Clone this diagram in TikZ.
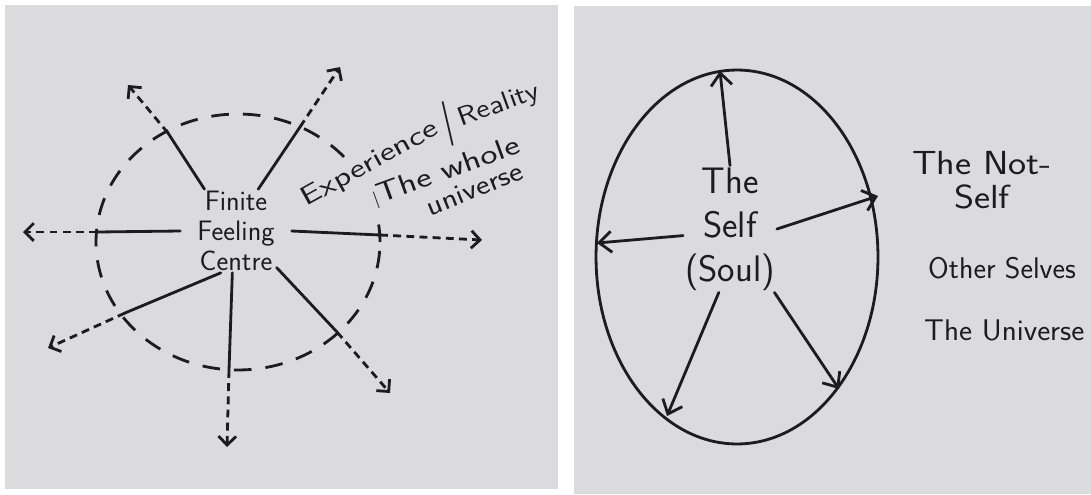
\documentclass[tikz,border=0pt]{standalone}
\usepackage{fontspec}
\usepackage{graphicx}
\usepackage{tikz}
\usetikzlibrary{arrows.meta, positioning}
\definecolor{paper}{RGB}{219,219,221}
\definecolor{ink}{RGB}{28,28,30}
\newcommand{\stretchx}[2]{\scalebox{#1}[1]{#2}}

\begin{document}
\begin{tikzpicture}[
  x=0.02cm, y=-0.02cm,
  every node/.style={text=ink, inner sep=1pt, font=\sffamily},
  pen/.style={draw=ink, line width=1.6pt, line cap=round},
  ring/.style={pen, line cap=butt, dash pattern=on 10pt off 8pt},
  outray/.style={pen, line cap=butt, dash pattern=on 4.5pt off 3pt,
    -{Straight Barb[length=5pt, width=10pt]}},
  soulray/.style={pen, -{Straight Barb[length=7pt, width=12pt]}},
  hand/.style={anchor=base west, font=\sffamily\fontsize{#1}{#1}\selectfont},
  hand/.default=15
]
  \useasboundingbox (0,0) rectangle (1091,494);
  \fill[white] (0,0) rectangle (1091,494);
  \fill[paper] (5,5) rectangle (558,489);
  \fill[paper] (574,6) rectangle (1091,494);

  % left sheet: finite feeling centre
  \node[align=center, font=\sffamily\fontsize{16}{17}\selectfont] (ffc) at (236,231)
    {Finite\\Feeling\\Centre};
  \draw[ring] (238,242) ellipse [x radius=2.84cm, y radius=2.56cm];

  \coordinate (cut-tl) at (168,133);  \coordinate (tip-tl) at (128,85);
  \coordinate (cut-tr) at (300,127);  \coordinate (tip-tr) at (340,67);
  \coordinate (cut-l)  at (97,232);   \coordinate (tip-l)  at (23,232);
  \coordinate (cut-r)  at (380,235);  \coordinate (tip-r)  at (482,240);
  \coordinate (cut-ll) at (125,313);  \coordinate (tip-ll) at (48,348);
  \coordinate (cut-b)  at (229,370);  \coordinate (tip-b)  at (227,447);
  \coordinate (cut-lr) at (337,332);  \coordinate (tip-lr) at (390,393);

  \draw[pen] (ffc.127) -- (cut-tl);
  \draw[outray] (cut-tl) -- (tip-tl);
  \draw[pen] (ffc.62) -- (cut-tr);
  \draw[outray] (cut-tr) -- (tip-tr);
  \draw[pen] ([xshift=-0.3cm]ffc.west) -- (cut-l);
  \draw[outray] (cut-l) -- (tip-l);
  \draw[pen] ([xshift=0.3cm]ffc.east) -- (cut-r);
  \draw[outray] (cut-r) -- (tip-r);
  \draw[pen] (ffc.250) -- (cut-ll);
  \draw[outray] (cut-ll) -- (tip-ll);
  \draw[pen] (ffc.265) -- (cut-b);
  \draw[outray] (cut-b) -- (tip-b);
  \draw[pen] (ffc.318) -- (cut-lr);
  \draw[outray] (cut-lr) -- (tip-lr);

  % the ring breaks where the words are written over it
  \node[hand, rotate=29, fill=paper] (exper) at (305,208) {\stretchx{1.32}{Experience}};
  \node[anchor=center, rotate=13, font=\sffamily\fontsize{26}{26}\selectfont] (bar) at (448,124) {|};
  \node[hand, rotate=20] (real) at (460,127) {\stretchx{1.15}{Reality}};
  \node[hand=16, rotate=20, fill=paper, inner xsep=4pt] (whole) at (368,208)
    {\stretchx{1.3}{{\fontsize{10}{10}\selectfont|}The whole}};
  \node[hand=16, rotate=22] (univ) at (429,217) {\stretchx{1.15}{universe}};

  % right sheet: the self
  \node[align=center, font=\sffamily\fontsize{21}{25}\selectfont] (self) at (730,229)
    {The\\Self\\(Soul)};
  \draw[pen] (737,257) ellipse [x radius=2.82cm, y radius=3.74cm];

  \coordinate (rim-t)  at (720,71);
  \coordinate (rim-r)  at (878,196);
  \coordinate (rim-l)  at (597,243);
  \coordinate (rim-ll) at (667,416);
  \coordinate (rim-lr) at (839,389);

  \draw[soulray] (self.north) -- (rim-t);
  \draw[soulray] (self.east) -- (rim-r);
  \draw[soulray] (self.188) -- (rim-l);
  \draw[soulray] (self.260) -- (rim-ll);
  \draw[soulray] (self.305) -- (rim-lr);

  \node[align=center, font=\sffamily\fontsize{19}{19}\selectfont] (notself) at (982,180)
    {\stretchx{1.15}{The Not-}\\\stretchx{1.15}{Self}};
  \node[font=\sffamily\fontsize{17}{19}\selectfont, below=0.9cm of notself, xshift=0.4cm] (others)
    {Other Selves};
  \node[font=\sffamily\fontsize{17}{19}\selectfont, below right=0.72cm and -0.08cm of others.south west] (whole-u)
    {\stretchx{1.04}{The Universe}};
\end{tikzpicture}
\end{document}
